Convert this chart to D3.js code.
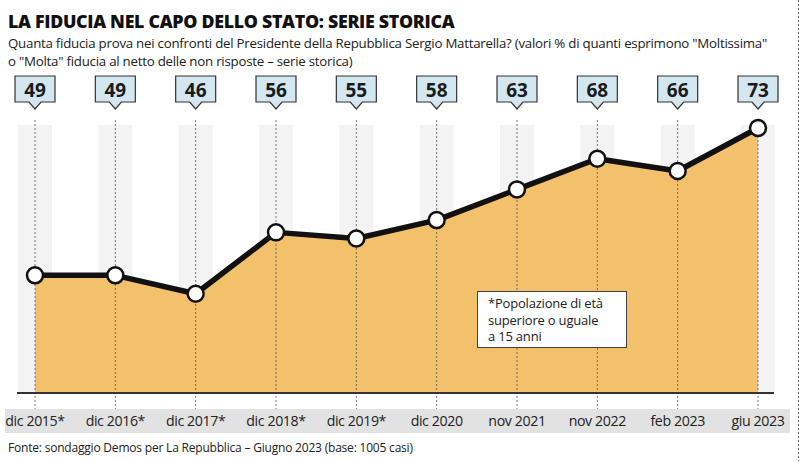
<!DOCTYPE html>
<html><head><meta charset="utf-8">
<script src="https://cdn.jsdelivr.net/npm/d3@7/dist/d3.min.js"></script>
<style>
body{margin:0;background:#fff;}
svg{display:block;font-family:"Open Sans",sans-serif;}
</style></head>
<body>
<svg id="chart" width="800" height="461"></svg>
<script>
const categories = ["dic 2015*","dic 2016*","dic 2017*","dic 2018*","dic 2019*","dic 2020","nov 2021","nov 2022","feb 2023","giu 2023"];
const values = [49,49,46,56,55,58,63,68,66,73];
const title = "LA FIDUCIA NEL CAPO DELLO STATO: SERIE STORICA";
const subtitle = ["Quanta fiducia prova nei confronti del Presidente della Repubblica Sergio Mattarella? (valori % di quanti esprimono \"Moltissima\"",
                  "o \"Molta\" fiducia al netto delle non risposte \u2013 serie storica)"];
const noteLines = ["*Popolazione di et\u00e0","superiore o uguale","a 15 anni"];
const source = "Fonte: sondaggio Demos per La Repubblica \u2013 Giugno 2023 (base: 1005 casi)";

const svg = d3.select("#chart");
const x = d3.scalePoint().domain(categories).range([35, 758]);
const y = d3.scaleLinear().domain([30, 73]).range([392, 128]);
const baseY = 393;

// title & subtitle
svg.append("text").attr("x",8).attr("y",28).text(title)
  .attr("font-size",17.8).attr("font-weight",800).attr("fill","#111").attr("letter-spacing",-0.3);
subtitle.forEach((s,i)=>svg.append("text").attr("x",8).attr("y",48+i*18).text(s)
  .attr("font-size",13.3).attr("fill","#222").attr("letter-spacing",-0.25));

// faint bands behind ticks
svg.append("g").selectAll("rect").data(categories).join("rect")
  .attr("x",d=>x(d)-17).attr("width",34).attr("y",125).attr("height",baseY-125)
  .attr("fill","#f3f3f3");

// area
const area = d3.area().x((d,i)=>x(categories[i])).y0(baseY).y1(d=>y(d));
svg.append("path").datum(values).attr("d",area).attr("fill","#f3c06c");

// label band
svg.append("rect").attr("x",5).attr("y",409).attr("width",785).attr("height",24).attr("fill","#e2e2e2");

// dashed verticals
svg.append("g").selectAll("line").data(categories).join("line")
  .attr("x1",d=>x(d)).attr("x2",d=>x(d)).attr("y1",120).attr("y2",409)
  .attr("stroke","#555").attr("stroke-width",0.8).attr("stroke-dasharray","2,2");

// baseline
svg.append("line").attr("x1",17).attr("x2",774).attr("y1",baseY).attr("y2",baseY)
  .attr("stroke","#333").attr("stroke-width",2);

// x axis labels
svg.append("g").selectAll("text").data(categories).join("text")
  .attr("x",d=>x(d)).attr("y",426).attr("text-anchor","middle").text(d=>d)
  .attr("font-size",14.2).attr("fill","#222").attr("letter-spacing",-0.4);

// line
const line = d3.line().x((d,i)=>x(categories[i])).y(d=>y(d));
svg.append("path").datum(values).attr("d",line).attr("fill","none")
  .attr("stroke","#111").attr("stroke-width",5.5).attr("stroke-linejoin","round");

// points
svg.append("g").selectAll("circle").data(values).join("circle")
  .attr("cx",(d,i)=>x(categories[i])).attr("cy",d=>y(d)).attr("r",8)
  .attr("fill","#fff").attr("stroke","#111").attr("stroke-width",2.5);

// callouts
const cg = svg.append("g").selectAll("g").data(values).join("g")
  .attr("transform",(d,i)=>`translate(${x(categories[i])},0)`);
cg.append("path")
  .attr("d","M-20,76 H20 V102 H6 L0,109 L-6,102 H-20 Z")
  .attr("fill","#d3e7f1").attr("stroke","#333").attr("stroke-width",1.2);
cg.append("text").attr("y",96.5).attr("text-anchor","middle").text(d=>d)
  .attr("font-size",19).attr("font-weight",700).attr("fill","#1b1b1b");

// note box
svg.append("rect").attr("x",477.5).attr("y",291.5).attr("width",149).attr("height",56)
  .attr("fill","#fff").attr("stroke","#444").attr("stroke-width",1);
noteLines.forEach((s,i)=>svg.append("text").attr("x",488).attr("y",308+i*16.5).text(s)
  .attr("font-size",13).attr("fill","#222").attr("letter-spacing",-0.2));

// source
svg.append("text").attr("x",8).attr("y",452).text(source)
  .attr("font-size",12).attr("fill","#222").attr("letter-spacing",-0.2);

// right dashed edge
svg.append("line").attr("x1",798.5).attr("x2",798.5).attr("y1",0).attr("y2",461)
  .attr("stroke","#666").attr("stroke-dasharray","2,2").attr("stroke-width",1);
</script>
</body></html>
